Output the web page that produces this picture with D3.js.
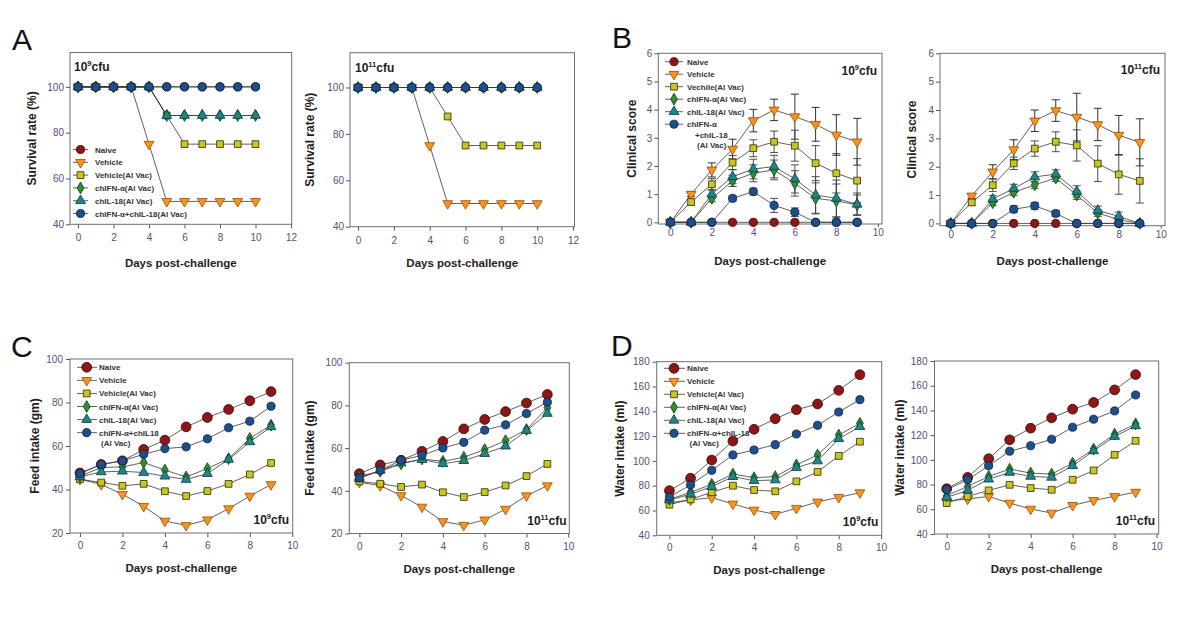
<!DOCTYPE html>
<html>
<head>
<meta charset="utf-8">
<script src="https://cdn.jsdelivr.net/npm/d3@7"></script>
<style>
  html, body { margin: 0; padding: 0; background: #fff; }
  svg { display: block; font-family: "Liberation Sans", Arial, sans-serif; }
</style>
</head>
<body>
<script>
// ---------------- DATA ----------------
const days = [0, 1, 2, 3, 4, 5, 6, 7, 8, 9];
const survivalDays = [0, 1, 2, 3, 4, 5, 6, 7, 8, 9, 10];

// series order: Naive, Vehicle, Vehicle(Al Vac), chIFN-α(Al Vac), chIL-18(Al Vac), chIFN-α+chIL-18(Al Vac)
const survival9 = [
  [100, 100, 100, 100, 100, 100, 100, 100, 100, 100, 100],
  [100, 100, 100, 100, 75, 50, 50, 50, 50, 50, 50],
  [100, 100, 100, 100, 100, 87.5, 75, 75, 75, 75, 75],
  [100, 100, 100, 100, 100, 87.5, 87.5, 87.5, 87.5, 87.5, 87.5],
  [100, 100, 100, 100, 100, 87.5, 87.5, 87.5, 87.5, 87.5, 87.5],
  [100, 100, 100, 100, 100, 100, 100, 100, 100, 100, 100]
];
const survival11 = [
  [100, 100, 100, 100, 100, 100, 100, 100, 100, 100, 100],
  [100, 100, 100, 100, 75, 50, 50, 50, 50, 50, 50],
  [100, 100, 100, 100, 100, 87.5, 75, 75, 75, 75, 75],
  [100, 100, 100, 100, 100, 100, 100, 100, 100, 100, 100],
  [100, 100, 100, 100, 100, 100, 100, 100, 100, 100, 100],
  [100, 100, 100, 100, 100, 100, 100, 100, 100, 100, 100]
];

const score9 = [
  [0, 0, 0, 0, 0, 0, 0, 0, 0, 0],
  [0, 1.0, 1.86, 2.6, 3.61, 3.99, 3.75, 3.48, 3.1, 2.86],
  [0, 0.72, 1.35, 2.12, 2.63, 2.86, 2.72, 2.1, 1.74, 1.48],
  [0, 0, 0.85, 1.47, 1.74, 1.86, 1.38, 0.85, 0.76, 0.62],
  [0, 0, 1.0, 1.62, 1.89, 1.98, 1.54, 0.97, 0.85, 0.64],
  [0, 0, 0, 0.85, 1.09, 0.6, 0.36, 0, 0, 0]
];
const score9Err = [
  [0, 0, 0, 0, 0, 0, 0, 0, 0, 0],
  [0, 0.08, 0.25, 0.35, 0.4, 0.38, 0.8, 0.6, 0.72, 0.83],
  [0, 0.1, 0.2, 0.25, 0.3, 0.38, 0.55, 0.62, 0.7, 0.78],
  [0, 0, 0.12, 0.2, 0.3, 0.35, 0.45, 0.55, 0.6, 0.35],
  [0, 0, 0.15, 0.25, 0.35, 0.4, 0.5, 0.65, 0.65, 0.4],
  [0, 0, 0, 0.1, 0.12, 0.25, 0.15, 0, 0, 0]
];
const score11 = [
  [0, 0, 0, 0, 0, 0, 0, 0, 0, 0],
  [0, 0.97, 1.82, 2.6, 3.62, 3.98, 3.75, 3.49, 3.11, 2.86],
  [0, 0.74, 1.35, 2.12, 2.64, 2.88, 2.75, 2.11, 1.73, 1.5],
  [0, 0, 0.73, 1.1, 1.36, 1.6, 1.0, 0.37, 0.13, 0],
  [0, 0, 0.86, 1.23, 1.64, 1.74, 1.13, 0.46, 0.25, 0],
  [0, 0, 0, 0.5, 0.62, 0.35, 0, 0, 0, 0]
];
const score11Err = [
  [0, 0, 0, 0, 0, 0, 0, 0, 0, 0],
  [0, 0.08, 0.25, 0.35, 0.38, 0.38, 0.84, 0.57, 0.7, 0.83],
  [0, 0.1, 0.22, 0.22, 0.27, 0.35, 0.55, 0.63, 0.7, 0.78],
  [0, 0, 0.1, 0.12, 0.12, 0.12, 0.15, 0.12, 0.1, 0],
  [0, 0, 0.12, 0.15, 0.18, 0.15, 0.2, 0.15, 0.15, 0],
  [0, 0, 0, 0.12, 0.12, 0.1, 0, 0, 0, 0]
];

const feed9 = [
  [47.6, 51.5, 53.2, 58.4, 62.7, 68.8, 73.1, 76.8, 80.8, 85.0],
  [44.7, 42.3, 37.8, 32.3, 25.5, 23.5, 26.1, 31.2, 37.0, 42.3],
  [44.7, 43.2, 41.7, 42.6, 39.2, 37.0, 39.3, 42.6, 46.9, 52.2],
  [46.1, 50.1, 50.4, 52.4, 48.9, 45.8, 49.6, 54.2, 63.5, 69.6],
  [45.8, 48.1, 48.4, 47.8, 46.1, 44.6, 47.3, 53.8, 61.9, 68.8],
  [47.3, 51.5, 53.2, 56.2, 58.8, 59.6, 63.3, 68.4, 71.4, 78.3]
];
const feed11 = [
  [48.0, 52.1, 54.3, 58.5, 63.1, 69.0, 73.4, 77.1, 81.1, 85.1],
  [44.0, 42.4, 37.8, 32.4, 25.6, 23.9, 26.4, 31.4, 37.7, 42.4],
  [44.4, 43.3, 41.8, 42.9, 39.3, 37.1, 39.4, 42.5, 46.9, 52.6],
  [46.8, 49.1, 52.6, 54.9, 53.8, 55.7, 59.3, 63.5, 68.7, 78.9],
  [45.7, 49.6, 53.0, 54.6, 52.7, 54.1, 57.4, 60.9, 68.2, 76.2],
  [46.0, 49.6, 54.3, 56.6, 60.1, 62.7, 68.4, 70.9, 76.2, 81.5]
];

const water9 = [
  [76.0, 86.0, 100.7, 116.0, 125.5, 134.0, 141.3, 145.9, 156.9, 169.5],
  [66.3, 68.5, 70.4, 65.3, 60.4, 56.9, 61.8, 66.9, 70.6, 74.4],
  [64.7, 69.0, 74.7, 80.0, 76.5, 75.5, 83.5, 91.1, 104.0, 115.5],
  [69.0, 74.7, 81.1, 89.4, 86.5, 87.3, 96.7, 104.8, 120.9, 130.3],
  [68.5, 73.1, 79.2, 87.3, 84.1, 84.6, 94.5, 99.9, 117.9, 127.6],
  [70.9, 80.6, 92.4, 104.8, 108.8, 113.1, 121.7, 128.7, 139.4, 149.4]
];
const water11 = [
  [76.6, 85.8, 100.9, 116.2, 125.6, 134.0, 141.0, 146.4, 156.6, 169.0],
  [66.7, 68.3, 70.4, 65.0, 60.2, 57.0, 63.2, 67.2, 70.4, 73.9],
  [65.0, 70.4, 75.3, 79.8, 77.2, 75.8, 83.9, 91.4, 104.1, 115.4],
  [71.0, 78.5, 86.6, 92.5, 89.3, 88.5, 97.4, 108.7, 120.8, 129.1],
  [69.6, 75.3, 84.4, 89.8, 86.6, 85.8, 95.2, 107.3, 118.9, 127.5],
  [75.8, 83.9, 95.2, 107.0, 111.4, 116.7, 126.4, 132.9, 139.6, 152.5]
];

const legendA = ["Naive", "Vehicle", "Vehicle(Al Vac)", "chIFN-α(Al Vac)", "chIL-18(Al Vac)", ["chIFN-α+chIL-18(Al Vac)"]];
const legendB = ["Naive", "Vehicle", "Vechile(Al Vac)", "chIFN-α(Al Vac)", "chIL-18(Al Vac)", ["chIFN-α", "+chIL-18", "(Al Vac)"]];
const legendC = ["Naive", "Vehicle", "Vehicle(Al Vac)", "chIFN-α(Al Vac)", "chIL-18(Al Vac)", ["chIFN-α+chIL18", "(Al Vac)"]];
const legendD = ["Naive", "Vehicle", "Vehicle(Al Vac)", "chIFN-α(Al Vac)", "chIL-18(Al Vac)", ["chIFN-α+chIL-18", "(Al Vac)"]];

const ticksSurvivalX = [0, 2, 4, 6, 8, 10, 12];
const ticksDaysX = [0, 2, 4, 6, 8, 10];
const ticksSurvivalY = [40, 60, 80, 100];
const ticksScoreY = [0, 1, 2, 3, 4, 5, 6];
const ticksFeedY = [20, 40, 60, 80, 100];
const ticksWaterY = [40, 60, 80, 100, 120, 140, 160, 180];

const xTitle = "Days post-challenge";
const yTitles = ["Survival rate (%)", "Clinical score", "Feed intake (gm)", "Water intake (ml)"];

// ---------------- STYLES ----------------
const TICK_COLOR = "#5e4b78";
const styles = [
  { sym: d3.symbolCircle,   fill: "#8e1616", stroke: "#3a0505", size: 52, rot: 0 },
  { sym: d3.symbolTriangle, fill: "#f7931e", stroke: "#a04c00", size: 42, rot: 180 },
  { sym: d3.symbolSquare,   fill: "#c9c61f", stroke: "#2b2b05", size: 46, rot: 0 },
  { sym: d3.symbolDiamond,  fill: "#2f8f2f", stroke: "#0e3e0e", size: 40, rot: 0 },
  { sym: d3.symbolTriangle, fill: "#1f8585", stroke: "#0a3a3a", size: 42, rot: 0 },
  { sym: d3.symbolCircle,   fill: "#1d4f8c", stroke: "#0a1f3a", size: 52, rot: 0 }
];

const svg = d3.select("body").append("svg").attr("width", 1200).attr("height", 624);
svg.append("rect").attr("width", 1200).attr("height", 624).attr("fill", "#fff");

function marker(g, s, cx, cy, sizeScale) {
  g.append("path")
    .attr("d", d3.symbol().type(s.sym).size(s.size * (sizeScale || 1))())
    .attr("transform", `translate(${cx},${cy}) rotate(${s.rot})`)
    .attr("fill", s.fill).attr("stroke", s.stroke).attr("stroke-width", 0.8);
}

function panel(c) {
  const x = d3.scaleLinear().domain(c.xd).range([c.l, c.r]);
  const y = d3.scaleLinear().domain(c.yd).range([c.b, c.t]);
  const g = svg.append("g");

  // axes
  const ax = g.append("g").attr("transform", `translate(0,${c.b})`)
    .call(d3.axisBottom(x).tickValues(c.xt).tickSize(c.xts).tickPadding(c.xpad).tickFormat(d3.format("d")));
  const ay = g.append("g").attr("transform", `translate(${c.l},0)`)
    .call(d3.axisLeft(y).tickValues(c.yt).tickSize(4).tickPadding(c.ypad).tickFormat(d3.format("d")));
  [ax, ay].forEach(a => {
    a.select(".domain").remove();
    a.selectAll("line").attr("stroke", "#555");
    a.selectAll("text").attr("fill", TICK_COLOR).style("font-size", "10px")
      .style("font-family", "'Liberation Sans', Arial, sans-serif");
  });

  // frame
  g.append("rect").attr("x", c.l).attr("y", c.t).attr("width", c.r - c.l).attr("height", c.b - c.t)
    .attr("fill", "none").attr("stroke", "#6e6e6e").attr("stroke-width", 1);

  const xs = c.xs;
  const line = d3.line().x((d, i) => x(xs[i])).y(d => y(d));

  // lines
  c.data.forEach(ser => {
    g.append("path").attr("d", line(ser)).attr("fill", "none")
      .attr("stroke", "#3a3a3a").attr("stroke-width", 0.8);
  });

  // error bars
  if (c.err) {
    c.err.forEach((es, si) => {
      es.forEach((e, i) => {
        if (!e) return;
        const v = c.data[si][i];
        const px = x(xs[i]);
        const col = si === 1 ? "#1a1a1a" : "#3c3c3c";
        g.append("line").attr("x1", px).attr("x2", px).attr("y1", y(v - e)).attr("y2", y(v + e))
          .attr("stroke", col).attr("stroke-width", 0.9);
        [v - e, v + e].forEach(ev => {
          g.append("line").attr("x1", px - 4).attr("x2", px + 4).attr("y1", y(ev)).attr("y2", y(ev))
            .attr("stroke", col).attr("stroke-width", 0.9);
        });
      });
    });
  }

  // markers
  c.data.forEach((ser, si) => {
    ser.forEach((v, i) => {
      marker(g, styles[si], x(xs[i]), y(v), (si === 0 && c.bigNaive) ? 1.45 : 1);
    });
  });

  // titles
  g.append("text").attr("x", (c.l + c.r) / 2).attr("y", c.xty).attr("text-anchor", "middle")
    .attr("fill", "#1e1e1e").style("font-size", "11.5px").style("font-weight", "bold").text(xTitle);
  g.append("text").attr("transform", `translate(${c.ytx},${(c.t + c.b) / 2}) rotate(-90)`)
    .attr("dy", "0.35em").attr("text-anchor", "middle")
    .attr("fill", "#1e1e1e").style("font-size", "12px").style("font-weight", "bold").text(c.ytitle);

  // dose label
  const dl = g.append("text").attr("x", c.dose.x).attr("y", c.dose.y)
    .attr("text-anchor", c.dose.anchor).attr("fill", "#1e1e1e")
    .style("font-size", "12px").style("font-weight", "bold");
  dl.append("tspan").text("10");
  dl.append("tspan").attr("dy", -5).style("font-size", "7.5px").text(c.dose.exp);
  dl.append("tspan").attr("dy", 5).text("cfu");

  // legend
  if (c.legend) {
    const L = c.legend;
    L.labels.forEach((lab, i) => {
      const yy = L.y0 + i * L.dy;
      g.append("line").attr("x1", L.lx1).attr("x2", L.lx2).attr("y1", yy).attr("y2", yy)
        .attr("stroke", "#3a3a3a").attr("stroke-width", 0.8);
      marker(g, styles[i], L.mx, yy, (i === 0 && c.bigNaive) ? 1.45 : 1);
      const lines = Array.isArray(lab) ? lab : [lab];
      lines.forEach((t, k) => {
        g.append("text").attr("x", L.tx + (k > 0 ? L.indent[k - 1] : 0)).attr("y", yy + 3 + k * L.lh)
          .attr("fill", "#333").style("font-size", "8px").style("font-weight", "bold").text(t);
      });
    });
  }
}

// ---------------- PANELS ----------------
panel({ data: survival9, xs: survivalDays, l: 70, r: 291.7, t: 52.5, b: 224.3, xd: [-0.45, 12.04], yd: [40, 115],
  xt: ticksSurvivalX, yt: ticksSurvivalY, xts: 4, xpad: 6, ypad: 2, xty: 267, ytx: 32, ytitle: yTitles[0],
  dose: { x: 74, y: 71, anchor: "start", exp: "9" },
  legend: { labels: legendA, lx1: 73, lx2: 88, mx: 80.5, tx: 95, y0: 149.5, dy: 12.8, lh: 10, indent: [] } });
panel({ data: survival11, xs: survivalDays, l: 350, r: 574.5, t: 52.7, b: 226.7, xd: [-0.45, 12.08], yd: [40, 115],
  xt: ticksSurvivalX, yt: ticksSurvivalY, xts: 4, xpad: 6, ypad: 2, xty: 267, ytx: 310, ytitle: yTitles[0],
  dose: { x: 355, y: 71.7, anchor: "start", exp: "11" } });

panel({ data: score9, err: score9Err, xs: days, l: 658.3, r: 882, t: 53.3, b: 224, xd: [-0.58, 10.2], yd: [-0.06, 6],
  xt: ticksDaysX, yt: ticksScoreY, xts: 3, xpad: 2, ypad: 2, xty: 265, ytx: 632, ytitle: yTitles[1],
  dose: { x: 877, y: 75, anchor: "end", exp: "9" },
  legend: { labels: legendB, lx1: 665, lx2: 683, mx: 674, tx: 687, y0: 61.7, dy: 12.5, lh: 10.5, indent: [8, 10] } });
panel({ data: score11, err: score11Err, xs: days, l: 940, r: 1165, t: 53.3, b: 225.7, xd: [-0.51, 10.2], yd: [-0.08, 6],
  xt: ticksDaysX, yt: ticksScoreY, xts: 3, xpad: 2, ypad: 2, xty: 265, ytx: 912, ytitle: yTitles[1],
  dose: { x: 1160, y: 74, anchor: "end", exp: "11" } });

panel({ data: feed9, xs: days, l: 70, r: 292.7, t: 359, b: 533, xd: [-0.47, 10.02], yd: [20, 100], bigNaive: true,
  xt: ticksDaysX, yt: ticksFeedY, xts: 4, xpad: 5, ypad: 3, xty: 572, ytx: 35, ytitle: yTitles[2],
  dose: { x: 289, y: 524, anchor: "end", exp: "9" },
  legend: { labels: legendC, lx1: 77, lx2: 97, mx: 86.7, tx: 99, y0: 367.3, dy: 13.07, lh: 10, indent: [2] } });
panel({ data: feed11, xs: days, l: 349.3, r: 569.3, t: 362.7, b: 533.5, xd: [-0.48, 10.05], yd: [20, 100], bigNaive: true,
  xt: ticksDaysX, yt: ticksFeedY, xts: 4, xpad: 5, ypad: 3, xty: 573, ytx: 310, ytitle: yTitles[2],
  dose: { x: 566.5, y: 525, anchor: "end", exp: "11" } });

panel({ data: water9, xs: days, l: 656.7, r: 881.7, t: 361.7, b: 535.3, xd: [-0.6, 10.03], yd: [40, 180], bigNaive: true,
  xt: ticksDaysX, yt: ticksWaterY, xts: 4, xpad: 5, ypad: 3, xty: 574, ytx: 620, ytitle: yTitles[3],
  dose: { x: 878.3, y: 526, anchor: "end", exp: "9" },
  legend: { labels: legendD, lx1: 664, lx2: 685, mx: 674, tx: 687, y0: 368.3, dy: 13, lh: 10, indent: [2.5] } });
panel({ data: water11, xs: days, l: 934.5, r: 1158.7, t: 361, b: 534, xd: [-0.58, 10.1], yd: [40, 180], bigNaive: true,
  xt: ticksDaysX, yt: ticksWaterY, xts: 4, xpad: 5, ypad: 3, xty: 573, ytx: 900, ytitle: yTitles[3],
  dose: { x: 1155, y: 525, anchor: "end", exp: "11" } });

// panel letters
[["A", 12, 50], ["B", 612, 48], ["C", 11, 357], ["D", 611, 356]].forEach(([t, x, y]) => {
  svg.append("text").attr("x", x).attr("y", y).attr("fill", "#111")
    .style("font-size", "30px").text(t);
});
</script>
</body>
</html>
